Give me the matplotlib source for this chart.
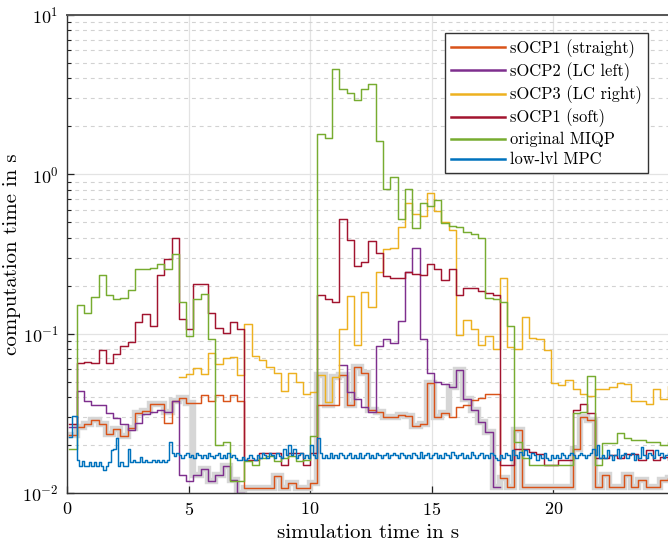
import numpy as np
import matplotlib
matplotlib.use("Agg")
import matplotlib.pyplot as plt
from matplotlib.ticker import LogLocator, NullFormatter

nan = float("nan")

# ---------------- data ----------------
# high-level solvers: one sample every 0.3 s, first sample at t = 0.1 s
t0_high, dt_high = 0.1, 0.3
socp1_straight = [
    0.023, 0.026, 0.027, 0.0287, 0.027, 0.0234, 0.0251, 0.0228, 0.0254, 0.032,
    0.0328, 0.036, 0.036, 0.0276, 0.038, 0.0396, 0.0368, 0.0368, 0.0412, 0.0378,
    0.0412, 0.0378, 0.0412, 0.0378, 0.0107, 0.0107, 0.0107, 0.0107, 0.0128, 0.0107,
    0.0116, 0.0107, 0.0107, 0.0116, 0.0356, 0.0356, 0.0356, 0.055, 0.0356, 0.062,
    0.057, 0.033, 0.0322, 0.030, 0.030, 0.0308, 0.0305, 0.0263, 0.027, 0.0492,
    0.030, 0.0318, 0.030, 0.0348, 0.0356, 0.0383, 0.0393, 0.0417, 0.042, 0.0125,
    0.0109, 0.0248, 0.0109, 0.0109, 0.0109, 0.0109, 0.0109, 0.0109, 0.0109, 0.019,
    0.0298, 0.0289, 0.0109, 0.013, 0.0109, 0.0109, 0.013, 0.0109, 0.0121, 0.0109,
    0.0109, 0.0121, 0.0125]
socp2_lc_left = [
    0.0258, 0.0438, 0.038, 0.0356, 0.0356, 0.0318, 0.0296, 0.027, 0.0248, 0.0274,
    0.0313, 0.0324, 0.0334, 0.0324, 0.0378, 0.013, 0.0119, 0.013, 0.0141, 0.0119,
    0.013, 0.0148, 0.012, 0.010, nan, nan, nan, nan, nan, nan,
    nan, nan, nan, nan, nan, nan, nan, 0.064, 0.0432, 0.0387,
    0.0348, 0.0324, 0.084, 0.093, 0.087, 0.120, 0.244, 0.346, 0.093, 0.0564,
    0.050, 0.048, 0.0465, 0.059, 0.0387, 0.033, 0.028, 0.0242, 0.0109, nan,
    nan, nan, nan, nan, nan, nan, nan, nan, nan, nan,
    nan, nan, nan, nan, nan, nan, nan, nan, nan, nan,
    nan, nan, nan]
socp3_lc_right = [
    nan, nan, nan, nan, nan, nan, nan, nan, nan, nan,
    nan, nan, nan, nan, nan, 0.0535, 0.0558, 0.0605, 0.0558, 0.0752,
    0.0644, 0.070, 0.071, 0.0554, 0.115, 0.072, 0.0685, 0.062, 0.0564, 0.0438,
    0.0564, 0.050, 0.0417, 0.0431, 0.0549, 0.0374, 0.0535, 0.107, 0.172, 0.0855,
    0.183, 0.146, 0.244, 0.339, 0.345, 0.470, 0.660, 0.560, 0.550, 0.760,
    0.590, 0.500, 0.445, 0.0977, 0.121, 0.1075, 0.085, 0.097, 0.080, 0.222,
    0.082, 0.080, 0.128, 0.094, 0.093, 0.079, 0.049, 0.0476, 0.051, 0.045,
    0.042, 0.0405, 0.045, 0.045, 0.046, 0.049, 0.048, 0.038, 0.038, 0.036,
    0.045, 0.039, 0.047]
socp1_soft = [
    0.027, 0.0655, 0.066, 0.0655, 0.0795, 0.0655, 0.0744, 0.0835, 0.0889, 0.119,
    0.132, 0.111, 0.233, 0.293, 0.398, 0.124, 0.1065, 0.204, 0.206, 0.134,
    0.109, 0.1015, 0.118, 0.1065, 0.016, 0.016, 0.0179, 0.0179, 0.0179, 0.015,
    0.0179, 0.0179, 0.015, 0.0179, 0.174, 0.165, 0.159, 0.522, 0.386, 0.265,
    0.282, 0.383, 0.323, 0.229, 0.222, 0.225, 0.244, 0.236, 0.233, 0.273,
    0.256, 0.216, 0.256, 0.176, 0.194, 0.193, 0.185, 0.180, 0.175, 0.015,
    0.015, 0.019, 0.019, 0.018, 0.0175, 0.015, 0.015, 0.016, 0.016, 0.033,
    0.036, 0.0316, 0.0165, 0.0165, 0.0172, 0.0165, 0.0175, 0.0175, 0.016, 0.0186,
    0.016, 0.0169, 0.016]
original_miqp = [
    0.0188, 0.151, 0.134, 0.170, 0.233, 0.174, 0.165, 0.168, 0.187, 0.256,
    0.254, 0.260, 0.275, 0.256, 0.318, 0.158, 0.0964, 0.166, 0.177, 0.092,
    0.020, 0.0208, 0.0119, 0.0119, 0.0159, 0.0150, 0.0165, 0.0170, 0.0158, 0.0165,
    0.0170, 0.0158, 0.0160, 0.0227, 1.80, 1.70, 4.60, 3.41, 3.24, 2.91,
    3.45, 3.67, 1.63, 0.805, 0.962, 0.522, 0.813, 0.463, 0.661, 0.636,
    0.694, 0.498, 0.474, 0.467, 0.435, 0.425, 0.399, 0.168, 0.166, 0.158,
    0.111, 0.021, 0.0165, 0.015, 0.015, 0.015, 0.015, 0.015, 0.015, 0.0316,
    0.0324, 0.054, 0.015, 0.0205, 0.0205, 0.0239, 0.022, 0.0215, 0.0215, 0.021,
    0.021, 0.020, 0.021]
# which sOCP was active (0: straight, 1: LC left, 2: LC right) -> grey highlight
active_mode = (
    [0] * 13 + [1] + [0] * 3 + [1] * 7 + [0] * 10 + [2, 0, 2]
    + [0] * 15 + [1] * 7 + [0] * 24)

# low-level MPC: one sample every 0.1 s, first sample at t = 0.1 s
t0_low, dt_low = 0.1, 0.1
low_lvl_mpc = [
    0.0226, 0.0305, 0.0305, 0.0162, 0.0148, 0.0158, 0.0148, 0.0148, 0.0156, 0.0148,
    0.0156, 0.0148, 0.0156, 0.0148, 0.0140, 0.0148, 0.0156, 0.0186, 0.0190, 0.0222,
    0.0148, 0.0156, 0.0148, 0.0148, 0.0189, 0.0156, 0.0162, 0.0156, 0.0156, 0.0168,
    0.0156, 0.0162, 0.0156, 0.0156, 0.0162, 0.0156, 0.0162, 0.0156, 0.0162, 0.0156,
    0.0162, 0.0208, 0.0178, 0.0170, 0.0178, 0.0172, 0.0165, 0.0172, 0.0178, 0.0168,
    0.0172, 0.0165, 0.0178, 0.0172, 0.0165, 0.0172, 0.0165, 0.0178, 0.0170, 0.0165,
    0.0172, 0.0178, 0.0165, 0.0172, 0.0165, 0.0178, 0.0168, 0.0172, 0.0165, 0.0160,
    0.0160, 0.0168, 0.0160, 0.0165, 0.0172, 0.0165, 0.0160, 0.0172, 0.0165, 0.0178,
    0.0172, 0.0165, 0.0178, 0.0172, 0.0165, 0.0178, 0.0170, 0.0165, 0.0188, 0.0172,
    0.0200, 0.0172, 0.0188, 0.0165, 0.0172, 0.0178, 0.0165, 0.0172, 0.0165, 0.0200,
    0.0172, 0.0165, 0.0222, 0.0178, 0.0165, 0.0172, 0.0165, 0.0178, 0.0165, 0.0172,
    0.0165, 0.0178, 0.0172, 0.0165, 0.0172, 0.0178, 0.0165, 0.0172, 0.0165, 0.0178,
    0.0165, 0.0172, 0.0178, 0.0165, 0.0172, 0.0165, 0.0178, 0.0172, 0.0165, 0.0172,
    0.0178, 0.0165, 0.0172, 0.0178, 0.0172, 0.0165, 0.0178, 0.0172, 0.0165, 0.0172,
    0.0165, 0.0178, 0.0172, 0.0165, 0.0180, 0.0165, 0.0172, 0.0178, 0.0165, 0.0172,
    0.0178, 0.0165, 0.0172, 0.0165, 0.0178, 0.0172, 0.0165, 0.0182, 0.0172, 0.0165,
    0.0172, 0.0178, 0.0165, 0.0172, 0.0165, 0.0182, 0.0172, 0.0165, 0.0172, 0.0178,
    0.0165, 0.0172, 0.0165, 0.0178, 0.0172, 0.0165, 0.0160, 0.0172, 0.0165, 0.0178,
    0.0172, 0.0160, 0.0185, 0.0172, 0.0165, 0.0182, 0.0172, 0.0185, 0.0172, 0.0165,
    0.0178, 0.0172, 0.0160, 0.0172, 0.0165, 0.0178, 0.0165, 0.0160, 0.0172, 0.0165,
    0.0172, 0.0165, 0.0178, 0.0172, 0.0165, 0.0172, 0.0178, 0.0172, 0.0165, 0.0172,
    0.0178, 0.0172, 0.0165, 0.0172, 0.0178, 0.0190, 0.0172, 0.0200, 0.0165, 0.0172,
    0.0165, 0.0185, 0.0172, 0.0160, 0.0172, 0.0190, 0.0165, 0.0172, 0.0178, 0.0165,
    0.0172, 0.0178, 0.0160, 0.0172, 0.0165, 0.0195, 0.0172, 0.0165, 0.0178, 0.0172,
    0.0165, 0.0185, 0.0172, 0.0178, 0.0165, 0.0172, 0.0178]

labels = ["sOCP1 (straight)", "sOCP2 (LC left)", "sOCP3 (LC right)",
          "sOCP1 (soft)", "original MIQP", "low-lvl MPC"]
colors = ["#d95319", "#7e2f8e", "#edb120", "#a2142f", "#77ac30", "#0072bd"]

# ---------------- style ----------------
plt.rcParams.update({
    "font.family": "serif",
    "font.serif": ["cmr10", "DejaVu Serif"],
    "mathtext.fontset": "cm",
    "axes.formatter.use_mathtext": True,
    "axes.unicode_minus": True,
})

fig = plt.figure(figsize=(6.68, 5.5), dpi=100)
ax = fig.add_axes([67 / 668, 57 / 550, 603 / 668, 478 / 550])


def stairs_xy(t0, dt, vals):
    v = np.asarray(vals, dtype=float)
    x = t0 + dt * np.arange(len(v) + 1)
    y = np.append(v, v[-1])
    return x, y


high = [socp1_straight, socp2_lc_left, socp3_lc_right]
active_vals = [high[m][i] for i, m in enumerate(active_mode)]
xa, ya = stairs_xy(t0_high, dt_high, active_vals)
ax.step(xa, ya, where="post", color="#d6d6d6", lw=4.6, zorder=1.5,
        solid_joinstyle="miter")

series = [socp1_straight, socp2_lc_left, socp3_lc_right, socp1_soft, original_miqp]
for vals, lab, col in zip(series, labels[:5], colors[:5]):
    x, y = stairs_xy(t0_high, dt_high, vals)
    ax.step(x, y, where="post", color=col, lw=1.05, label=lab, zorder=2)
x, y = stairs_xy(t0_low, dt_low, low_lvl_mpc)
ax.step(x, y, where="post", color=colors[5], lw=1.05, label=labels[5], zorder=2.1)

ax.set_yscale("log")
ax.set_ylim(1e-2, 1e1)
ax.set_xlim(0, 24.8)
ax.set_xticks([0, 5, 10, 15, 20])
ax.yaxis.set_minor_locator(LogLocator(base=10, subs=np.arange(2, 10)))
ax.yaxis.set_minor_formatter(NullFormatter())

ax.grid(True, which="major", color="#e3e3e3", lw=0.9, ls="-", zorder=0)
ax.grid(True, which="minor", axis="y", color="#d2d2d2", lw=0.8,
        ls=(0, (3.5, 3.5)), zorder=0)
ax.set_axisbelow(True)

for s in ["left", "bottom", "top"]:
    ax.spines[s].set_color("#333333")
    ax.spines[s].set_linewidth(1.0)
ax.spines["top"].set_color("#555555")
ax.spines["top"].set_linewidth(1.4)
ax.spines["right"].set_visible(False)

ax.tick_params(which="both", direction="in", top=False, right=False,
               labelsize=13, colors="#222222", labelcolor="black")
ax.tick_params(which="major", length=5, width=0.9, pad=6)
ax.tick_params(which="minor", length=3, width=0.8)

ax.set_xlabel("simulation time in s", fontsize=15, labelpad=4)
ax.set_ylabel("computation time in s", fontsize=15)
ax.yaxis.set_label_coords(-0.076, 0.5)

leg = ax.legend(loc="upper right", bbox_to_anchor=(0.963, 0.962),
                bbox_transform=ax.transAxes, borderaxespad=0,
                fontsize=11.9, frameon=True, fancybox=False,
                edgecolor="#333333", framealpha=1, handlelength=3.3,
                handletextpad=0.3, labelspacing=0.28, borderpad=0.35)
leg.get_frame().set_linewidth(1.0)
for h in leg.get_lines():
    h.set_linewidth(1.8)

fig.savefig("out.png", dpi=100)
